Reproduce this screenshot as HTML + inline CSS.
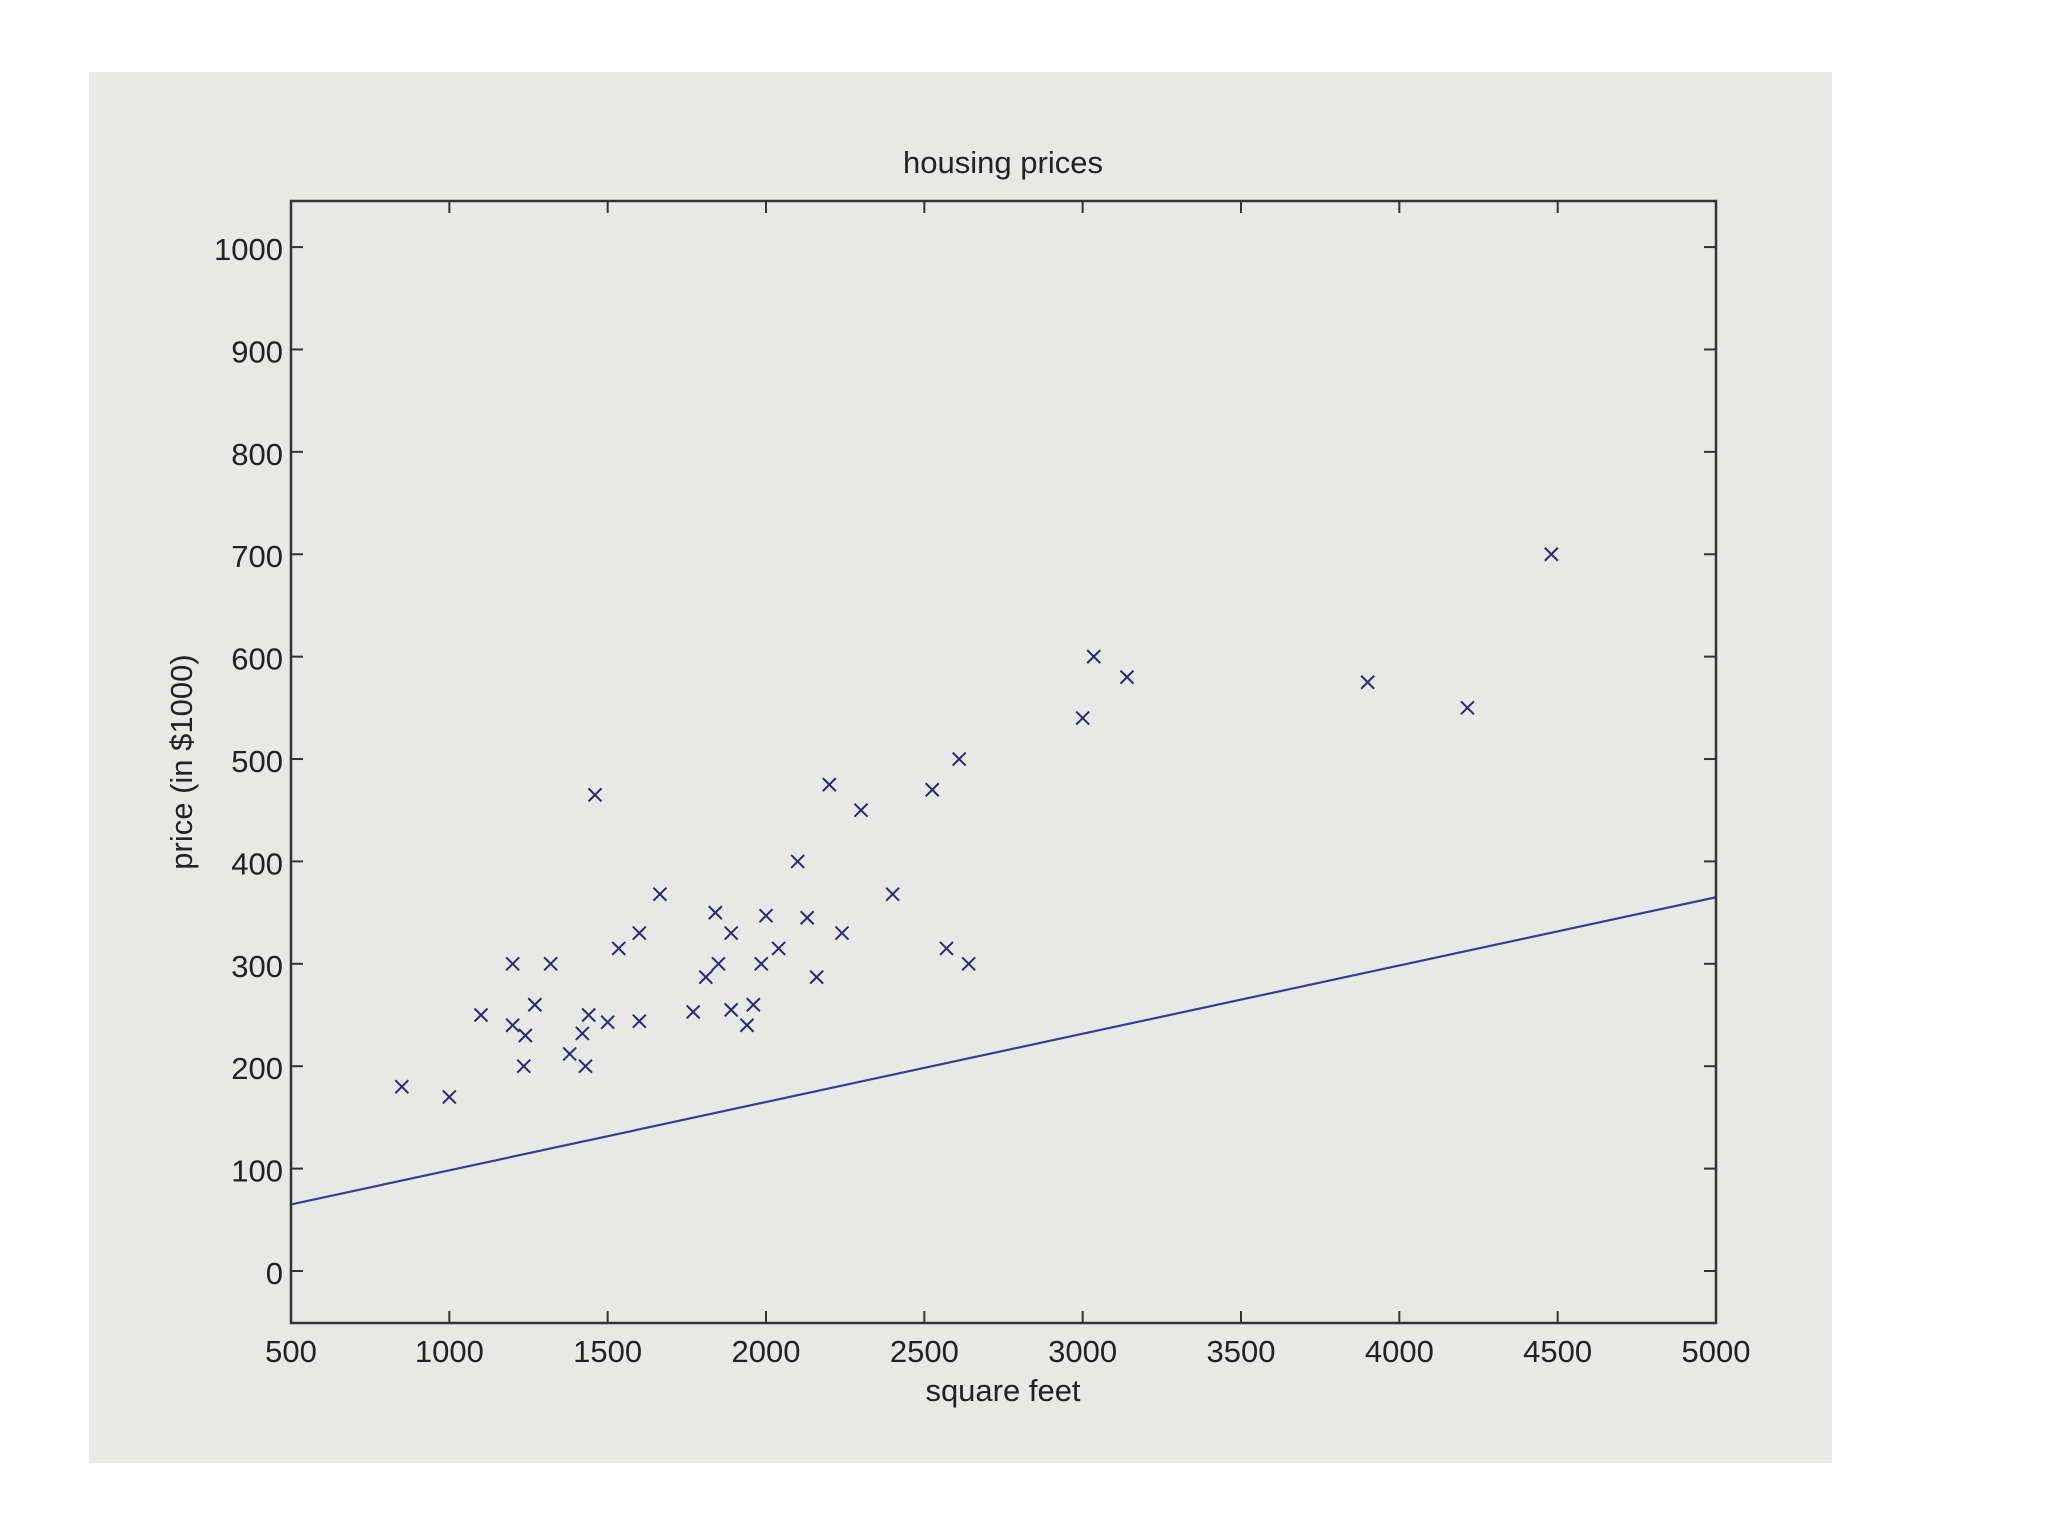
<!DOCTYPE html>
<html><head><meta charset="utf-8"><style>
html,body{margin:0;padding:0;background:#fff;}
svg{display:block;}
text{font-family:"Liberation Sans",sans-serif;fill:#222;}
</style></head><body>
<svg id="chart" width="2048" height="1536" viewBox="0 0 2048 1536" xmlns="http://www.w3.org/2000/svg">
<rect x="89" y="72" width="1743" height="1391" fill="#e8e9e7"/>
<text x="1003" y="173" font-size="31" text-anchor="middle">housing prices</text>
<text x="1003" y="1401" font-size="31" text-anchor="middle">square feet</text>
<text x="0" y="0" font-size="31" text-anchor="middle" transform="translate(192,762) rotate(-90)">price (in $1000)</text>
<g id="plot"></g>
</svg>
<script>
const xTicks=[500,1000,1500,2000,2500,3000,3500,4000,4500,5000];
const yTicks=[0,100,200,300,400,500,600,700,800,900,1000];
const sqft=[850,1000,1100,1200,1200,1240,1235,1270,1320,1380,1420,1430,1440,1460,1500,1535,1600,1600,1665,1770,1810,1840,1850,1890,1890,1940,1960,1985,2000,2040,2100,2130,2160,2200,2240,2300,2400,2525,2570,2610,2640,3000,3035,3140,3900,4215,4480];
const price=[180,170,250,300,240,230,200,260,300,212,232,200,250,465,243,315,330,244,368,253,287,350,300,330,255,240,260,300,347,315,400,345,287,475,330,450,368,470,315,500,300,540,600,580,575,550,700];
const fitX=[500,5000];
const fitY=[65,365];
const NS="http://www.w3.org/2000/svg";
const L=291,R=1716,T=201,B=1323;
const xMin=500,xMax=5000,yMin=-50.8,yMax=1045;
const sx=v=>L+(v-xMin)/(xMax-xMin)*(R-L);
const sy=v=>B-(v-yMin)/(yMax-yMin)*(B-T);
const g=document.getElementById('plot');
function mk(tag,attrs){const e=document.createElementNS(NS,tag);for(const k in attrs)e.setAttribute(k,attrs[k]);g.appendChild(e);return e;}
const fl=mk('line',{x1:sx(fitX[0]),y1:sy(fitY[0]),x2:sx(fitX[1]),y2:sy(fitY[1]),stroke:'#3c3c90','stroke-width':2.2});


const s=6.5;
for(let i=0;i<sqft.length;i++){
  const cx=sx(sqft[i]),cy=sy(price[i]);
  const p=mk('path',{d:`M${cx-s},${cy-s}L${cx+s},${cy+s}M${cx-s},${cy+s}L${cx+s},${cy-s}`,stroke:'#2a2a70','stroke-width':2,fill:'none'});
  
  
}
const box=mk('rect',{x:L,y:T,width:R-L,height:B-T,fill:'none',stroke:'#333','stroke-width':2.5});


const tl=12;
xTicks.forEach(v=>{
  const x=sx(v);
  mk('line',{x1:x,y1:B,x2:x,y2:B-tl,stroke:'#333','stroke-width':2});
  mk('line',{x1:x,y1:T,x2:x,y2:T+tl,stroke:'#333','stroke-width':2});
  const t=mk('text',{x:x,y:1362,'font-size':31,'text-anchor':'middle'});
  t.textContent=v;
  
  
});
yTicks.forEach(v=>{
  const y=sy(v);
  mk('line',{x1:L,y1:y,x2:L+tl,y2:y,stroke:'#333','stroke-width':2});
  mk('line',{x1:R,y1:y,x2:R-tl,y2:y,stroke:'#333','stroke-width':2});
  const t=mk('text',{x:283,y:y+13,'font-size':31,'text-anchor':'end'});
  t.textContent=v;
  
  
});
</script>
</body></html>
